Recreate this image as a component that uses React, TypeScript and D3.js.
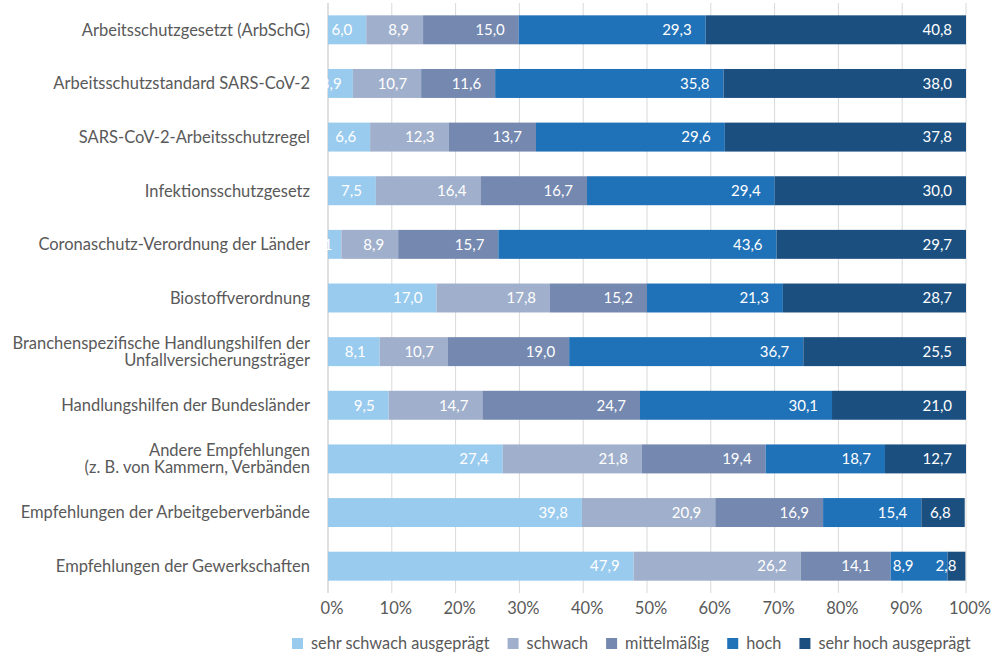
import React, { useEffect, useRef } from "react";
import * as d3 from "d3";

const categories: string[][] = [
  ["Arbeitsschutzgesetzt (ArbSchG)"],
  ["Arbeitsschutzstandard SARS-CoV-2"],
  ["SARS-CoV-2-Arbeitsschutzregel"],
  ["Infektionsschutzgesetz"],
  ["Coronaschutz-Verordnung der Länder"],
  ["Biostoffverordnung"],
  ["Branchenspezifische Handlungshilfen der", "Unfallversicherungsträger"],
  ["Handlungshilfen der Bundesländer"],
  ["Andere Empfehlungen", "(z. B. von Kammern, Verbänden"],
  ["Empfehlungen der Arbeitgeberverbände"],
  ["Empfehlungen der Gewerkschaften"],
];

const seriesNames = ["sehr schwach ausgeprägt", "schwach", "mittelmäßig", "hoch", "sehr hoch ausgeprägt"];

const sehrSchwach = [6.0, 3.9, 6.6, 7.5, 2.1, 17.0, 8.1, 9.5, 27.4, 39.8, 47.9];
const schwach = [8.9, 10.7, 12.3, 16.4, 8.9, 17.8, 10.7, 14.7, 21.8, 20.9, 26.2];
const mittel = [15.0, 11.6, 13.7, 16.7, 15.7, 15.2, 19.0, 24.7, 19.4, 16.9, 14.1];
const hoch = [29.3, 35.8, 29.6, 29.4, 43.6, 21.3, 36.7, 30.1, 18.7, 15.4, 8.9];
const sehrHoch = [40.8, 38.0, 37.8, 30.0, 29.7, 28.7, 25.5, 21.0, 12.7, 6.8, 2.8];

const seriesValues = [sehrSchwach, schwach, mittel, hoch, sehrHoch];
const colors = ["#99CBEF", "#A0AFCB", "#7488B0", "#1F71B8", "#1B4F80"];
const tickValues = [0, 10, 20, 30, 40, 50, 60, 70, 80, 90, 100];

const W = 992;
const H = 657;
const FONT = "Lato, 'Open Sans', sans-serif";

export default function App() {
  const ref = useRef<SVGSVGElement | null>(null);

  useEffect(() => {
    const svg = d3.select(ref.current);
    svg.selectAll("*").remove();

    const x = d3.scaleLinear().domain([0, 100]).range([328, 966]);
    const y = d3
      .scaleBand<number>()
      .domain(d3.range(categories.length))
      .range([3, 593])
      .paddingInner(0.46)
      .paddingOuter(0.23);

    // gridlines
    svg
      .append("g")
      .selectAll("line")
      .data(tickValues)
      .join("line")
      .attr("x1", (d) => x(d))
      .attr("x2", (d) => x(d))
      .attr("y1", 3)
      .attr("y2", 593)
      .attr("stroke", (d) => (d === 0 ? "#bfbfbf" : "#d9d9d9"))
      .attr("stroke-width", 1);

    // stacked data
    const rows = categories.map((_, i) => {
      const obj: any = { i };
      seriesValues.forEach((s, k) => (obj["s" + k] = s[i]));
      return obj;
    });
    const stack = d3.stack<any>().keys(seriesValues.map((_, k) => "s" + k));
    const stacked = stack(rows);

    const bars = svg.append("g");
    stacked.forEach((layer, k) => {
      bars
        .append("g")
        .attr("fill", colors[k])
        .selectAll("rect")
        .data(layer)
        .join("rect")
        .attr("x", (d) => x(d[0]))
        .attr("width", (d) => x(d[1]) - x(d[0]))
        .attr("y", (d) => y(d.data.i)!)
        .attr("height", y.bandwidth());
    });

    // value labels: right-aligned inside segment end, avoiding overlap from right to left
    const labels = svg.append("g").attr("font-family", FONT).attr("font-size", 15).attr("fill", "#ffffff");
    categories.forEach((_, i) => {
      let limit = Infinity;
      for (let k = stacked.length - 1; k >= 0; k--) {
        const d = stacked[k][i];
        const x0 = x(d[0]);
        const x1 = x(d[1]);
        const w = x1 - x0;
        const pad = Math.min(14, Math.max(9, w * 0.45));
        const xr = Math.min(x1 - pad, limit);
        const t = labels
          .append("text")
          .attr("x", xr)
          .attr("y", y(i)! + y.bandwidth() / 2)
          .attr("dy", "0.35em")
          .attr("text-anchor", "end")
          .text(d3.format(".1f")(d[1] - d[0]).replace(".", ","));
        const tw = (t.node() as SVGTextElement).getComputedTextLength();
        limit = xr - tw - 22;
      }
    });

    // category labels
    const cat = svg
      .append("g")
      .attr("font-family", FONT)
      .attr("font-size", 16.5)
      .attr("fill", "#595959")
      .attr("text-anchor", "end");
    categories.forEach((lines, i) => {
      const cy = y(i)! + y.bandwidth() / 2;
      const t = cat.append("text").attr("x", 310);
      lines.forEach((ln, j) => {
        t.append("tspan")
          .attr("x", 310)
          .attr("y", cy + (j - (lines.length - 1) / 2) * 17)
          .attr("dy", "0.35em")
          .text(ln);
      });
    });

    // x tick labels
    svg
      .append("g")
      .attr("font-family", FONT)
      .attr("font-size", 16.5)
      .attr("fill", "#595959")
      .attr("text-anchor", "middle")
      .selectAll("text")
      .data(tickValues)
      .join("text")
      .attr("x", (d) => x(d) + 4)
      .attr("y", 608)
      .attr("dy", "0.35em")
      .text((d) => d + "%");

    // legend
    const leg = svg.append("g").attr("font-family", FONT).attr("font-size", 16.3).attr("fill", "#595959");
    let cx = 292;
    seriesNames.forEach((name, k) => {
      leg
        .append("rect")
        .attr("x", cx)
        .attr("y", 638)
        .attr("width", 11)
        .attr("height", 11)
        .attr("fill", colors[k]);
      const t = leg
        .append("text")
        .attr("x", cx + 19)
        .attr("y", 643.5)
        .attr("dy", "0.35em")
        .text(name);
      const w = (t.node() as SVGTextElement).getComputedTextLength();
      cx = cx + 19 + w + 18;
    });
  }, []);

  return (
    <svg ref={ref} width={W} height={H} style={{ position: "absolute", left: 0, top: 0, background: "#fff" }} />
  );
}
